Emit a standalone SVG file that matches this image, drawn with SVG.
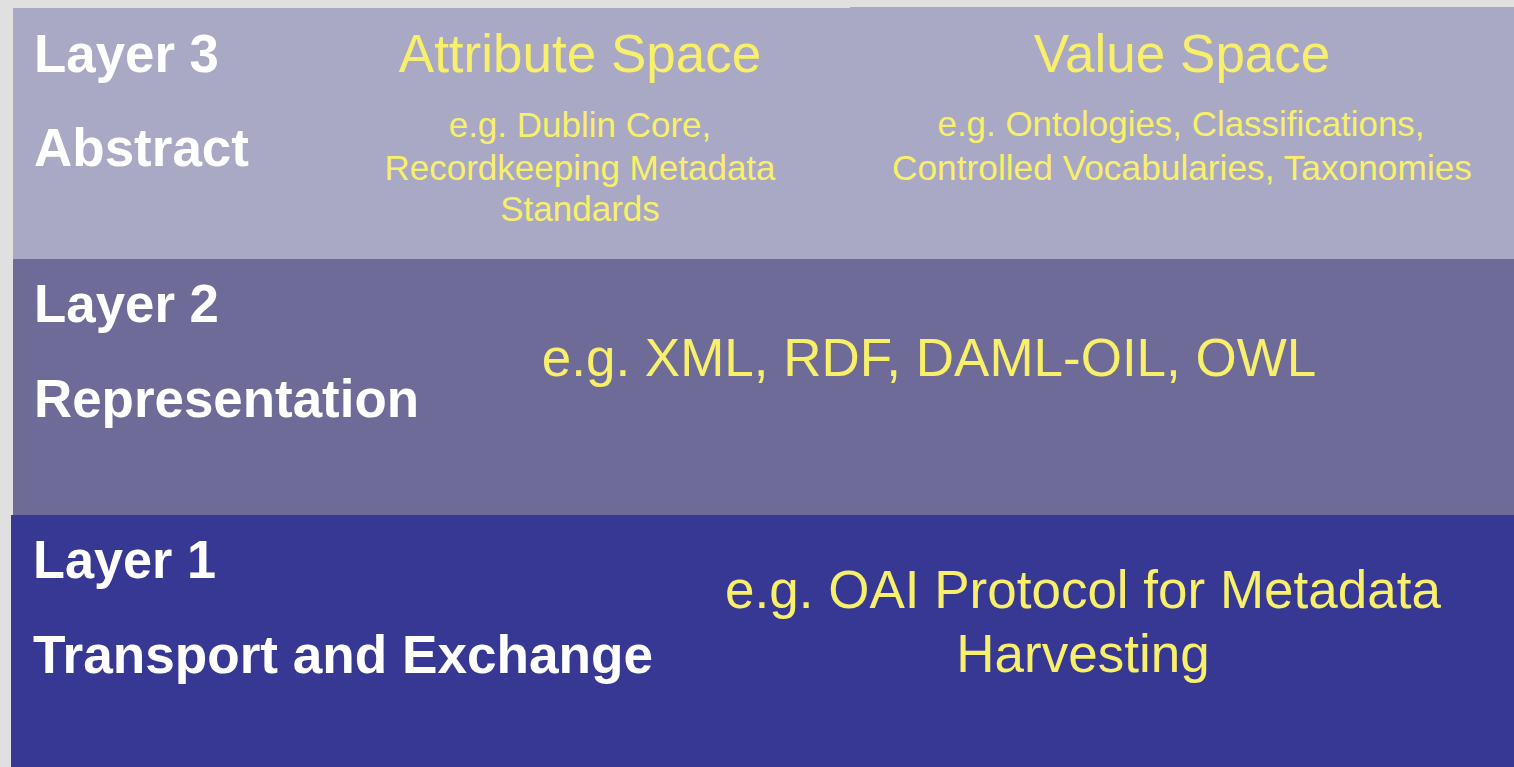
<svg xmlns="http://www.w3.org/2000/svg" width="1514" height="767" viewBox="0 0 1514 767">
  <style>
    .title { font-family: "Liberation Sans", Arial, sans-serif; font-weight: bold; font-size: 53px; fill: #ffffff; }
    .head { font-family: "Liberation Sans", Arial, sans-serif; font-size: 53px; fill: #f8f06b; text-anchor: middle; }
    .small { font-family: "Liberation Sans", Arial, sans-serif; font-size: 35px; fill: #f8f06b; text-anchor: middle; }
  </style>
  <rect x="0" y="0" width="1514" height="767" fill="#e0e0e0"/>

  <!-- Layer 3: abstract -->
  <g id="layer3">
    <rect x="13" y="8" width="1501" height="251" fill="#a9a9c5"/>
    <rect x="850" y="7" width="664" height="2" fill="#a9a9c5"/>
    <text class="title" x="34" y="72" textLength="185" lengthAdjust="spacingAndGlyphs">Layer 3</text>
    <text class="title" x="34" y="166" textLength="215" lengthAdjust="spacingAndGlyphs">Abstract</text>
    <text class="head" x="580" y="72">Attribute Space</text>
    <text class="small" x="580" y="137">e.g. Dublin Core,</text>
    <text class="small" x="580" y="180">Recordkeeping Metadata</text>
    <text class="small" x="580" y="221">Standards</text>
    <text class="head" x="1182" y="72">Value Space</text>
    <text class="small" x="1181" y="136" font-size="34" textLength="487" lengthAdjust="spacingAndGlyphs">e.g. Ontologies, Classifications,</text>
    <text class="small" x="1182" y="180" font-size="36.5" textLength="580" lengthAdjust="spacingAndGlyphs">Controlled Vocabularies, Taxonomies</text>
  </g>

  <!-- Layer 2: representation -->
  <g id="layer2">
    <rect x="13" y="259" width="1501" height="256" fill="#6e6b99"/>
    <text class="title" x="34" y="322" textLength="185" lengthAdjust="spacingAndGlyphs">Layer 2</text>
    <text class="title" x="34" y="417" textLength="385" lengthAdjust="spacingAndGlyphs">Representation</text>
    <text class="head" x="929" y="376">e.g. XML, RDF, DAML-OIL, OWL</text>
  </g>

  <!-- Layer 1: transport and exchange -->
  <g id="layer1">
    <rect x="11" y="515" width="1503" height="252" fill="#363893"/>
    <text class="title" x="33" y="578" textLength="183" lengthAdjust="spacingAndGlyphs">Layer 1</text>
    <text class="title" x="33" y="673" textLength="620" lengthAdjust="spacingAndGlyphs">Transport and Exchange</text>
    <text class="head" x="1083" y="608">e.g. OAI Protocol for Metadata</text>
    <text class="head" x="1083" y="672">Harvesting</text>
  </g>

  <g id="connectors"/>
</svg>
